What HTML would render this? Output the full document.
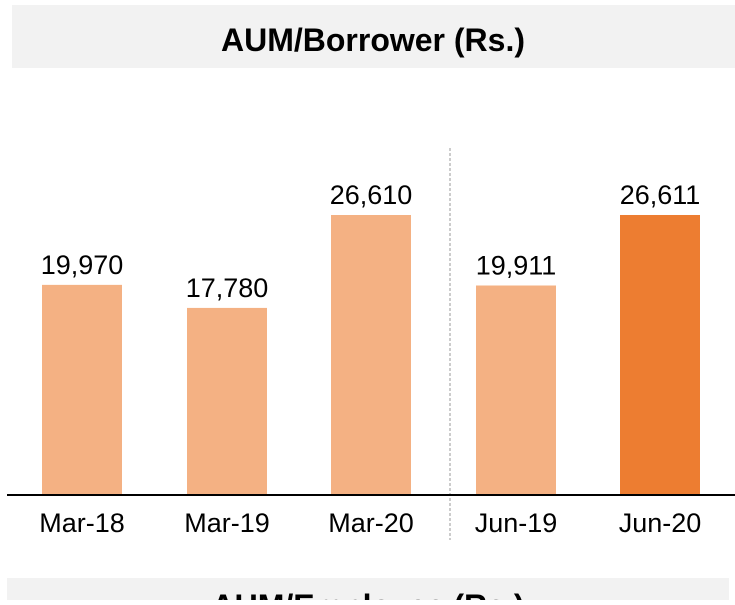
<!DOCTYPE html>
<html><head><meta charset="utf-8"><style>
body{margin:0;background:#fff;width:735px;height:600px;overflow:hidden;font-family:"Liberation Sans",sans-serif}
</style></head><body>
<svg width="735" height="600" xmlns="http://www.w3.org/2000/svg">
<rect x="12" y="5" width="723" height="63" fill="#f2f2f2"/>
<text x="373" y="51" text-anchor="middle" font-size="32" font-weight="bold" fill="#000">AUM/Borrower (Rs.)</text>
<rect x="7" y="578" width="722" height="30" fill="#f2f2f2"/>
<text x="368" y="617" text-anchor="middle" font-size="32" font-weight="bold" fill="#000">AUM/Employee (Rs.)</text>
<line x1="450" y1="148" x2="450" y2="540" stroke="#999" stroke-width="1" stroke-dasharray="3,2"/>
<g id="bars"></g>
<line x1="7" y1="495" x2="735" y2="495" stroke="#000" stroke-width="2"/>
</svg>
<script>
const categories=["Mar-18","Mar-19","Mar-20","Jun-19","Jun-20"];
const values=[19970,17780,26610,19911,26611];
const labels=["19,970","17,780","26,610","19,911","26,611"];
const colors=["#f4b183","#f4b183","#f4b183","#f4b183","#ed7d31"];
const ns="http://www.w3.org/2000/svg";
const g=document.getElementById("bars");
const base=495,scale=280/26610;
const centers=[82,227,371,516,660];
function y(v){return base-v*scale;}
categories.forEach((c,i)=>{
  const r=document.createElementNS(ns,"rect");
  r.setAttribute("x",centers[i]-40);r.setAttribute("width",80);
  r.setAttribute("y",y(values[i]));r.setAttribute("height",base-y(values[i]));
  r.setAttribute("fill",colors[i]);
  
  
  g.appendChild(r);
  const t=document.createElementNS(ns,"text");
  t.setAttribute("x",centers[i]);t.setAttribute("y",y(values[i])-11);
  t.setAttribute("text-anchor","middle");t.setAttribute("font-size","27");
  t.textContent=labels[i];
  
  
  g.appendChild(t);
  const x=document.createElementNS(ns,"text");
  x.setAttribute("x",centers[i]);x.setAttribute("y",532);
  x.setAttribute("text-anchor","middle");x.setAttribute("font-size","27");
  x.textContent=c;
  
  
  g.appendChild(x);
});
</script>
</body></html>
